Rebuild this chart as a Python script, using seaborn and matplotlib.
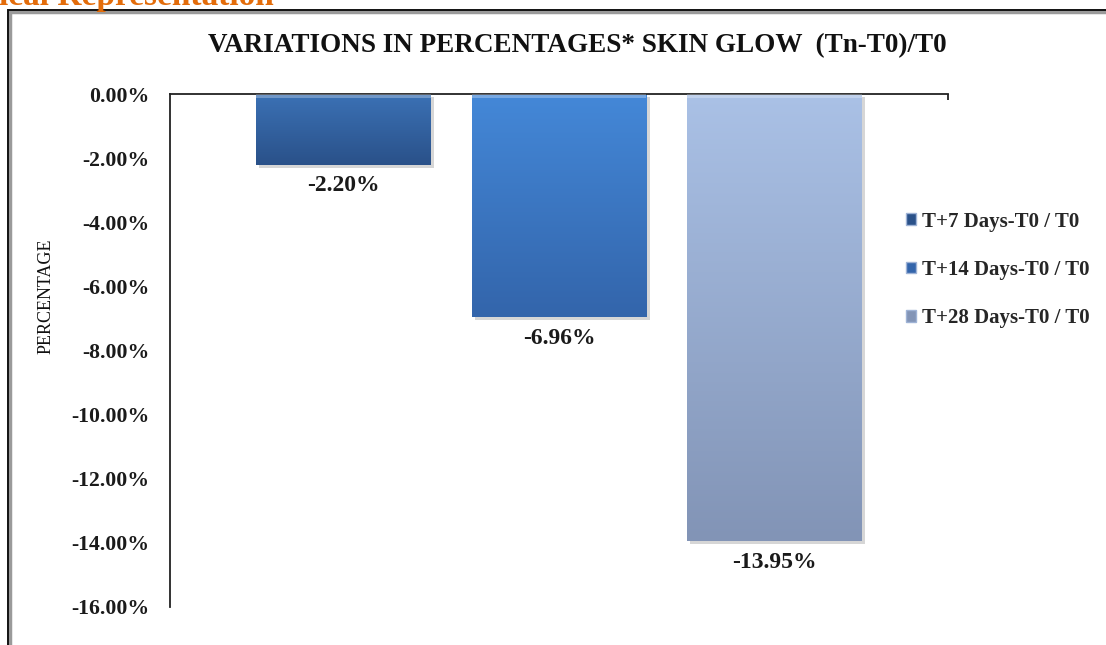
import numpy as np
import pandas as pd
import matplotlib
matplotlib.use("Agg")
import matplotlib.pyplot as plt
from matplotlib.patches import Rectangle
from matplotlib.colors import LinearSegmentedColormap
import seaborn as sns

# Data
series = ["T+7 Days-T0 / T0", "T+14 Days-T0 / T0", "T+28 Days-T0 / T0"]
values = [-2.20, -6.96, -13.95]
yticks = [0, -2, -4, -6, -8, -10, -12, -14, -16]
title = "VARIATIONS IN PERCENTAGES* SKIN GLOW  (Tn-T0)/T0"

# Top/bottom gradient colours per series
tops = ["#3b71b5", "#4488d8", "#aac1e6"]
bottoms = ["#2a5189", "#3365ab", "#8294b6"]

sns.set_style("white")
plt.rcParams["font.family"] = ["Liberation Serif", "DejaVu Serif"]

fig = plt.figure(figsize=(11.06, 6.45), dpi=100)
W, H = 1106, 645

# Page frame and section heading
fig.patches.append(Rectangle((10 / W, -0.1), 1.2, 1 - 12 / H + 0.1, transform=fig.transFigure,
                             fill=False, edgecolor="#9a9a9a", linewidth=2.5, zorder=0))
fig.patches.append(Rectangle((8 / W, -0.1), 1.2, 1 - 10 / H + 0.1, transform=fig.transFigure,
                             fill=False, edgecolor="#111111", linewidth=1.4, zorder=0))
fig.text(-1 / W, 1 - 5 / H, "ical Representation", color="#e36c0a", fontsize=24,
         fontweight="bold", ha="left", va="baseline")

ax = fig.add_axes([170 / W, 1 - 607 / H, (948 - 170) / W, (607 - 94) / H])

df = pd.DataFrame({"group": ["g"] * 3, "series": series, "value": values})
sns.barplot(data=df, x="group", y="value", hue="series", palette=tops,
            ax=ax, width=0.831, gap=0.188, legend=True, saturation=1)

# Gradient fill, clipped to each bar
bars = [p for p in ax.patches if p.get_height() != 0][:3]
for p, t, b in zip(bars, tops, bottoms):
    x0, y0 = p.get_x(), p.get_y()
    w, h = p.get_width(), p.get_height()
    ylo, yhi = min(y0, y0 + h), max(y0, y0 + h)
    # drop shadow
    ax.add_patch(Rectangle((x0 + 0.004, ylo - 0.1), w, yhi - ylo, facecolor="#000000",
                           alpha=0.16, edgecolor="none", zorder=1.5))
    cmap = LinearSegmentedColormap.from_list("g", [b, t])
    grad = np.linspace(0, 1, 256).reshape(-1, 1)
    im = ax.imshow(grad, extent=[x0, x0 + w, ylo, yhi], origin="lower", aspect="auto",
                   cmap=cmap, zorder=2)
    im.set_clip_path(p)
    p.set_edgecolor("none")
    p.set_zorder(2)
    # bevel highlight at top edge
    ax.add_patch(Rectangle((x0, yhi - 0.12), w, 0.12, facecolor="white", alpha=0.28,
                           edgecolor="none", zorder=3))
    ax.text(x0 + w / 2, ylo - 0.33, f"{ylo:.2f}%", ha="center", va="top",
            fontsize=17, fontweight="bold", color="#1a1a1a")

ax.set_xlim(-0.5, 0.5)
ax.set_ylim(-16, 0)

# Axes styling
for s in ["bottom", "right"]:
    ax.spines[s].set_visible(False)
for s in ["left", "top"]:
    ax.spines[s].set_color("#222222")
    ax.spines[s].set_linewidth(1.3)
ax.set_yticks(yticks)
ax.set_yticklabels([f"{v:.2f}%" for v in yticks], fontsize=15.7, fontweight="bold",
                   color="#1a1a1a")
ax.tick_params(axis="y", length=0, pad=15)
ax.xaxis.tick_top()
ax.set_xticks([0.5])
ax.set_xticklabels([""])
ax.tick_params(axis="x", direction="in", length=4, width=1.3, color="#222222")
ax.set_xlabel("")
ax.set_ylabel("")
ax.grid(False)

fig.text(46 / W, 1 - 296 / H, "PERCENTAGE", rotation=90, ha="center", va="center",
         fontsize=13, color="#111111")
fig.text(577 / W, 1 - 46 / H, title, ha="center", va="center", fontsize=19.5,
         fontweight="bold", color="#111111")

# Legend
handles, labels = ax.get_legend_handles_labels()
leg = ax.legend(handles, labels, loc="upper left", bbox_to_anchor=(887 / W, 1 - 193 / H),
                bbox_transform=fig.transFigure, frameon=False, handlelength=0.5,
                handleheight=0.5, handletextpad=0.3, labelspacing=1.35,
                prop={"family": "Liberation Serif", "weight": "bold", "size": 15})
for h, c in zip(leg.legend_handles, bottoms):
    h.set_facecolor(c)
    h.set_edgecolor("#9fb3d6")

fig.savefig("out.png", dpi=100)
